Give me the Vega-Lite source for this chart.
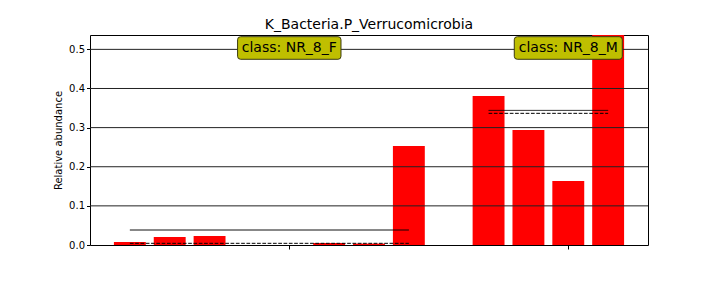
{
  "$schema": "https://vega.github.io/schema/vega-lite/v6.json",
  "autosize": {"type": "none"},
  "padding": {"left": 90, "top": 35, "right": 72, "bottom": 43},
  "width": 558,
  "height": 210,
  "background": "white",
  "config": {
    "font": "DejaVu Sans",
    "view": {"stroke": "black", "strokeWidth": 1}
  },
  "title": {
    "text": "K_Bacteria.P_Verrucomicrobia",
    "fontSize": 14,
    "fontWeight": "normal",
    "color": "black",
    "baseline": "alphabetic",
    "offset": -8,
    "anchor": "middle"
  },
  "datasets": {
    "bars": [
      {"i": 0, "cls": "NR_8_F", "value": 0.0077},
      {"i": 1, "cls": "NR_8_F", "value": 0.0204},
      {"i": 2, "cls": "NR_8_F", "value": 0.023},
      {"i": 3, "cls": "NR_8_F", "value": 0.0},
      {"i": 4, "cls": "NR_8_F", "value": 0.0},
      {"i": 5, "cls": "NR_8_F", "value": 0.005},
      {"i": 6, "cls": "NR_8_F", "value": 0.0035},
      {"i": 7, "cls": "NR_8_F", "value": 0.253},
      {"i": 9, "cls": "NR_8_M", "value": 0.381},
      {"i": 10, "cls": "NR_8_M", "value": 0.294},
      {"i": 11, "cls": "NR_8_M", "value": 0.1635},
      {"i": 12, "cls": "NR_8_M", "value": 0.54}
    ],
    "stats": [
      {"cls": "NR_8_F", "stat": "mean", "x1": 0, "x2": 7, "v": 0.0383},
      {"cls": "NR_8_F", "stat": "median", "x1": 0, "x2": 7, "v": 0.0043},
      {"cls": "NR_8_M", "stat": "mean", "x1": 9, "x2": 12, "v": 0.344},
      {"cls": "NR_8_M", "stat": "median", "x1": 9, "x2": 12, "v": 0.3365}
    ],
    "grid": [{"t": 0.1}, {"t": 0.2}, {"t": 0.3}, {"t": 0.4}, {"t": 0.5}],
    "labels": [
      {"cls": "NR_8_F", "label": "class: NR_8_F", "x": 4, "y": 0.5035},
      {"cls": "NR_8_M", "label": "class: NR_8_M", "x": 11, "y": 0.5035}
    ]
  },
  "layer": [
    {
      "data": {"name": "bars"},
      "mark": {"type": "bar", "color": "#ff0000", "width": 31.9, "clip": true},
      "encoding": {
        "x": {
          "field": "i", "type": "quantitative",
          "scale": {"domain": [-1, 13], "nice": false, "zero": false, "padding": 0},
          "axis": {
            "values": [4, 11], "labels": false, "ticks": true, "tickSize": 4,
            "tickColor": "black", "domain": false, "grid": false, "title": null
          }
        },
        "y": {
          "field": "value", "type": "quantitative",
          "scale": {"domain": [0, 0.5367], "nice": false},
          "axis": {
            "values": [0, 0.1, 0.2, 0.3, 0.4, 0.5], "format": ".1f",
            "labelFontSize": 10, "labelColor": "black", "labelPadding": 2,
            "tickSize": 3.5, "tickColor": "black", "domain": false, "grid": false,
            "title": "Relative abundance", "titleFontSize": 10,
            "titleFontWeight": "normal", "titleColor": "black", "titlePadding": 5
          }
        }
      }
    },
    {
      "data": {"name": "grid"},
      "mark": {"type": "rule", "color": "#222222", "strokeWidth": 1},
      "encoding": {"y": {"field": "t", "type": "quantitative"}}
    },
    {
      "data": {"name": "stats"},
      "mark": {"type": "rule", "color": "black", "strokeWidth": 1},
      "encoding": {
        "x": {"field": "x1", "type": "quantitative"},
        "x2": {"field": "x2"},
        "y": {"field": "v", "type": "quantitative"},
        "strokeDash": {
          "field": "stat", "type": "nominal",
          "scale": {"domain": ["mean", "median"], "range": [[1, 0], [3.7, 1.6]]},
          "legend": null
        }
      }
    },
    {
      "mark": {"type": "rule", "color": "black", "strokeWidth": 5},
      "encoding": {"x": {"datum": 8}}
    },
    {
      "data": {"name": "labels"},
      "mark": {"type": "point", "filled": true, "fill": "#bfbf00", "stroke": "#3a3a10", "strokeWidth": 1, "opacity": 1, "size": 12100},
      "encoding": {
        "x": {"field": "x", "type": "quantitative"},
        "y": {"field": "y", "type": "quantitative"},
        "shape": {
          "field": "cls", "type": "nominal", "legend": null,
          "scale": {
            "domain": ["NR_8_F", "NR_8_M"],
            "range": [
              "M -0.885,-0.2055 L 0.885,-0.2055 Q 0.94,-0.2055 0.94,-0.1505 L 0.94,0.1505 Q 0.94,0.2055 0.885,0.2055 L -0.885,0.2055 Q -0.94,0.2055 -0.94,0.1505 L -0.94,-0.1505 Q -0.94,-0.2055 -0.885,-0.2055 Z",
              "M -0.927,-0.2055 L 0.927,-0.2055 Q 0.982,-0.2055 0.982,-0.1505 L 0.982,0.1505 Q 0.982,0.2055 0.927,0.2055 L -0.927,0.2055 Q -0.982,0.2055 -0.982,0.1505 L -0.982,-0.1505 Q -0.982,-0.2055 -0.927,-0.2055 Z"
            ]
          }
        }
      }
    },
    {
      "data": {"name": "labels"},
      "mark": {"type": "text", "fontSize": 14, "color": "black", "align": "center", "baseline": "middle"},
      "encoding": {
        "x": {"field": "x", "type": "quantitative"},
        "y": {"field": "y", "type": "quantitative"},
        "text": {"field": "label"}
      }
    }
  ]
}
